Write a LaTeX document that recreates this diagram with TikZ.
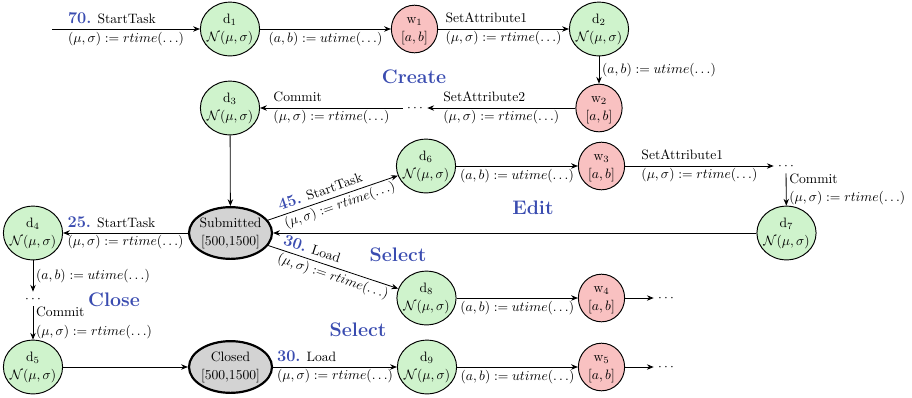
\documentclass[tikz,border=0pt]{standalone}
\usetikzlibrary{arrows.meta,shapes.geometric}
\definecolor{dgreen}{RGB}{207,243,204}
\definecolor{wred}{RGB}{249,193,193}
\definecolor{sgray}{RGB}{211,211,211}
\definecolor{lblue}{RGB}{58,76,176}
\newcommand{\twol}[2]{\makebox[0pt]{\smash{\raisebox{-2.5pt}{\renewcommand{\arraystretch}{1.07}\begin{tabular}{@{}c@{}}#1\\\relax #2\end{tabular}}}}}
\newcommand{\stepnum}[1]{{\large\bfseries\color{lblue}#1}}
\newcommand{\rtlbl}{$(\mu,\sigma) := rtime(\ldots)$}
\newcommand{\utlbl}{$(a,b) := utime(\ldots)$}
\begin{document}
\begin{tikzpicture}[x=0.735pt, y=-0.735pt,
  dnode/.style={ellipse, draw, line width=0.7pt, fill=dgreen, minimum width=43.5pt, minimum height=39.5pt, inner sep=0pt},
  wnode/.style={ellipse, draw, line width=0.7pt, fill=wred, minimum width=34pt, minimum height=35pt, inner sep=0pt},
  snode/.style={ellipse, draw, line width=1.6pt, fill=sgray, minimum width=61pt, minimum height=38pt, inner sep=0pt},
  dotnode/.style={inner sep=3pt},
  edge/.style={-{Stealth[length=5pt,width=4pt]}, line width=0.6pt},
  phase/.style={font=\Large\bfseries, text=lblue},
  lab/.style={midway, align=left, inner sep=1pt},
  blab/.style={midway, below, inner sep=2pt},
  rlab/.style={midway, right, align=left, inner sep=2pt}]
\useasboundingbox (0,0) rectangle (912,397);

\coordinate (start) at (52,29);
\node[dnode] (d1) at (230,29) {\twol{d$_1$}{$\mathcal{N}(\mu,\sigma)$}};
\node[wnode] (w1) at (414.5,29) {\twol{w$_1$}{$[a,b]$}};
\node[dnode] (d2) at (599,29) {\twol{d$_2$}{$\mathcal{N}(\mu,\sigma)$}};
\node[wnode] (w2) at (599,108) {\twol{w$_2$}{$[a,b]$}};
\node[dotnode] (dA) at (415,108) {$\cdots$};
\node[dnode] (d3) at (230,108) {\twol{d$_3$}{$\mathcal{N}(\mu,\sigma)$}};
\node[dnode] (d6) at (426,166) {\twol{d$_6$}{$\mathcal{N}(\mu,\sigma)$}};
\node[wnode] (w3) at (601.5,166) {\twol{w$_3$}{$[a,b]$}};
\node[dotnode] (dB) at (786,166) {$\cdots$};
\node[dnode] (d7) at (786.5,233) {\twol{d$_7$}{$\mathcal{N}(\mu,\sigma)$}};
\node[snode] (sub) at (230.5,233) {\twol{Submitted}{[500,1500]}};
\node[dnode] (d4) at (33,233) {\twol{d$_4$}{$\mathcal{N}(\mu,\sigma)$}};
\node[dotnode] (dC) at (33,299) {$\cdots$};
\node[dnode] (d8) at (426.5,298) {\twol{d$_8$}{$\mathcal{N}(\mu,\sigma)$}};
\node[wnode] (w4) at (601.5,298) {\twol{w$_4$}{$[a,b]$}};
\node[dotnode] (dD) at (666,298) {$\cdots$};
\node[dnode] (d5) at (33,367) {\twol{d$_5$}{$\mathcal{N}(\mu,\sigma)$}};
\node[snode] (closed) at (230.5,367) {\twol{Closed}{[500,1500]}};
\node[dnode] (d9) at (427,367) {\twol{d$_9$}{$\mathcal{N}(\mu,\sigma)$}};
\node[wnode] (w5) at (601.5,367) {\twol{w$_5$}{$[a,b]$}};
\node[dotnode] (dE) at (666,367) {$\cdots$};

\node[phase] (pcreate) at (414,77) {Create};
\node[phase] (pedit) at (533,208) {Edit};
\node[phase] (psel1) at (398,255) {Select};
\node[phase] (pclose) at (114,300) {Close};
\node[phase] (psel2) at (358,330) {Select};

\draw[edge] (start) -- (d1) node[lab] {\stepnum{70.} StartTask\\[1.5pt]\rtlbl};
\draw[edge] (d1) -- (w1) node[blab] {\utlbl};
\draw[edge] (w1) -- (d2) node[lab] {SetAttribute1\\[1.5pt]\rtlbl};
\draw[edge] (d2) -- (w2) node[midway, right, inner sep=2pt] {\utlbl};
\draw[edge] (w2) -- (dA) node[lab] {SetAttribute2\\[1.5pt]\rtlbl};
\draw[edge] (dA) -- (d3) node[lab] {Commit\\[1.5pt]\rtlbl};
\draw[edge] (d3) -- (sub);
\draw[edge] (sub) -- (d6) node[lab, sloped, pos=0.53] {\stepnum{45.} StartTask\\[1.5pt]\rtlbl};
\draw[edge] (d6) -- (w3) node[blab] {\utlbl};
\draw[edge] (w3) -- (dB) node[lab] {SetAttribute1\\[1.5pt]\rtlbl};
\draw[edge] (dB) -- (d7) node[rlab] {Commit\\[1.5pt]\rtlbl};
\draw[edge] (d7) -- (sub);
\draw[edge] (sub) -- (d4) node[lab] {\stepnum{25.} StartTask\\[1.5pt]\rtlbl};
\draw[edge] (sub) -- (d8) node[lab, sloped, pos=0.52] {\stepnum{30.} Load\\[1.5pt]\rtlbl};
\draw[edge] (d8) -- (w4) node[blab] {\utlbl};
\draw[edge] (w4) -- (dD);
\draw[edge] (d4) -- (dC) node[midway, right, inner sep=2pt] {\utlbl};
\draw[edge] (dC) -- (d5) node[rlab] {Commit\\[1.5pt]\rtlbl};
\draw[edge] (d5) -- (closed);
\draw[edge] (closed) -- (d9) node[lab] {\stepnum{30.} Load\\[1.5pt]\rtlbl};
\draw[edge] (d9) -- (w5) node[blab] {\utlbl};
\draw[edge] (w5) -- (dE);
\end{tikzpicture}
\end{document}
